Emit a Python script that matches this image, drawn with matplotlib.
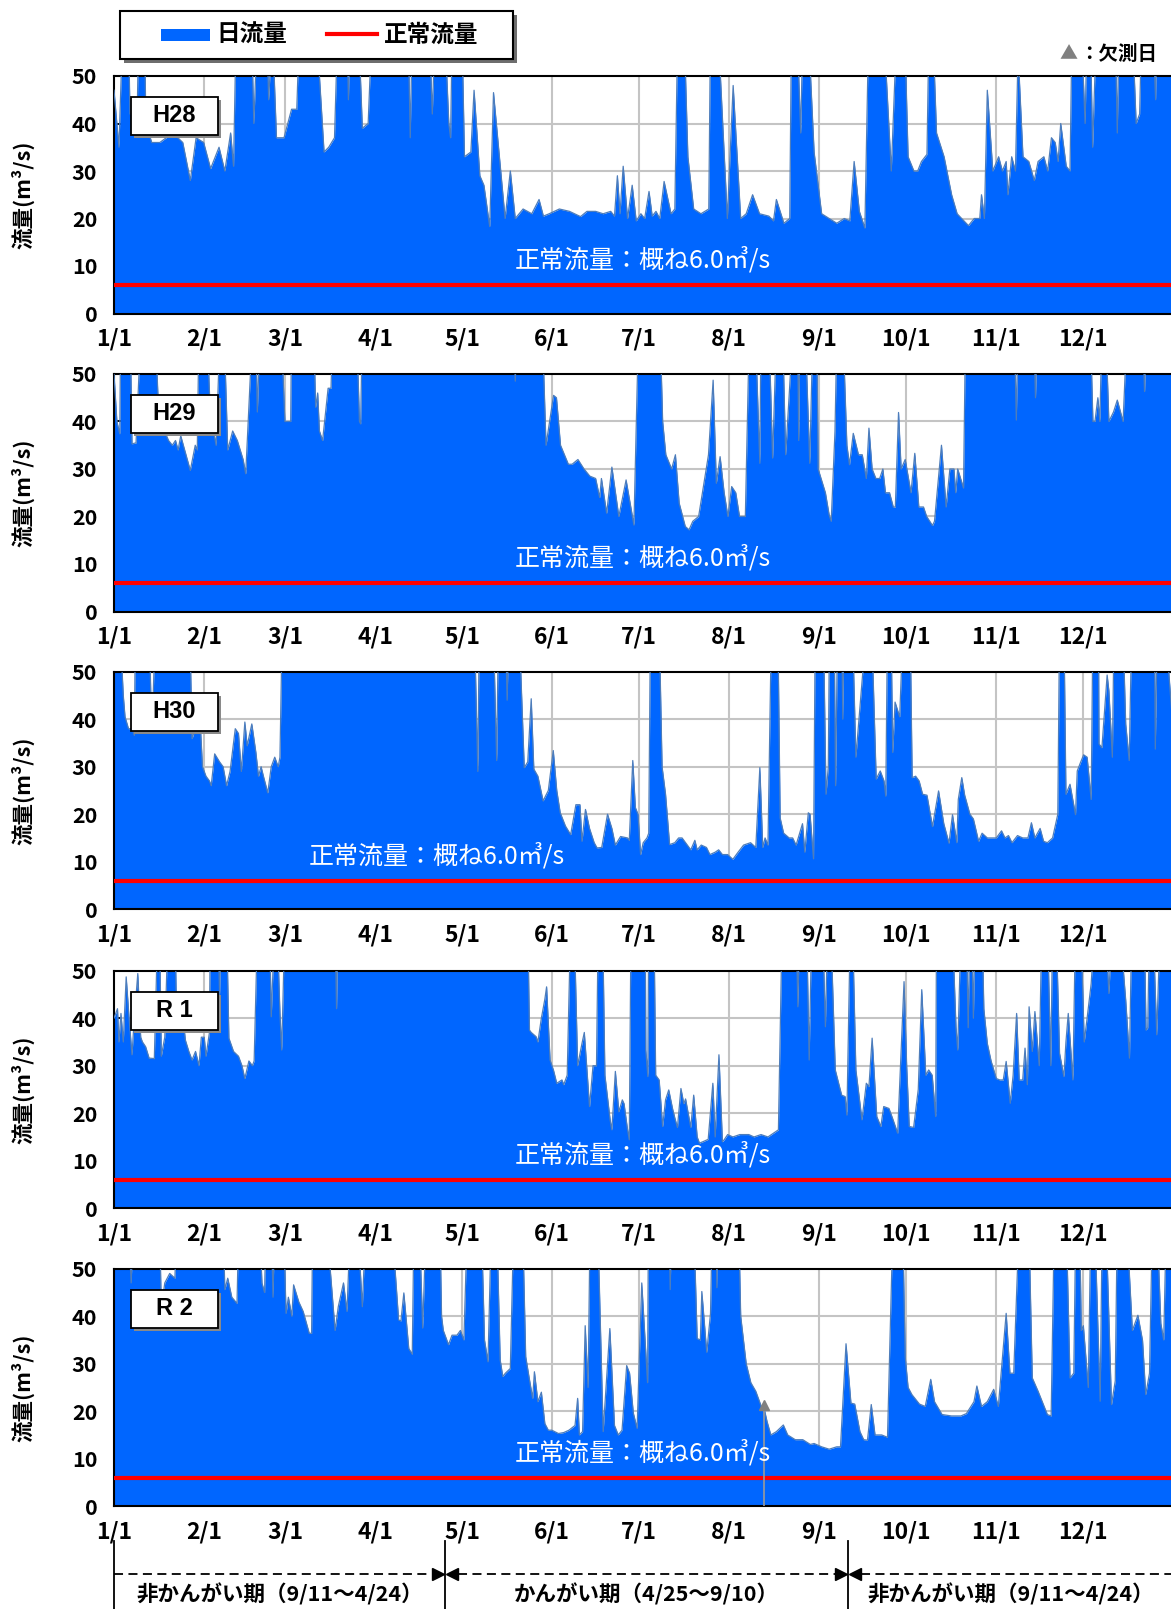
import matplotlib.pyplot as plt
import matplotlib.transforms as mtransforms
from matplotlib.patches import Rectangle

plt.rcParams['font.family'] = ['Noto Sans CJK JP', 'DejaVu Sans']

# 月初の通日と目盛ラベル
month_start = [0, 31, 59, 90, 120, 151, 181, 212, 243, 273, 304, 334]
month_label = ['1/1', '2/1', '3/1', '4/1', '5/1', '6/1',
               '7/1', '8/1', '9/1', '10/1', '11/1', '12/1']

year_label = ['H28', 'H29', 'H30', 'R 1', 'R 2']
normal_flow = 6.0   # 正常流量 m3/s

# 日流量 (通日, m3/s)  50超はグラフ外なので60で記録
h28 = [(0, 47), (1.7, 35), (3, 60), (5, 60), (5.5, 42), (8, 42), (8.5, 60), (10.5, 60), (11, 40),
       (13, 36), (15.8, 36), (18, 37), (19.7, 40), (22, 37), (23.7, 36), (26.3, 28), (28.3, 37),
       (30.9, 36), (33.3, 30.5), (36.2, 35), (38.2, 30), (40.2, 38), (41.2, 31), (42.1, 60),
       (47.4, 60), (48.2, 40), (49.4, 60), (52.7, 60), (53.3, 45), (54.6, 60), (56, 37), (58.6, 37),
       (61.2, 43), (63, 43), (63.9, 60), (69.8, 60), (72.4, 34), (74, 35), (76, 37), (77.1, 60),
       (80.3, 60), (80.8, 45), (81.3, 60), (84.3, 60), (85.6, 39), (87.6, 40), (88.9, 60),
       (101.4, 60), (102.1, 37), (102.8, 60), (108.7, 60), (109.7, 42), (110.7, 60), (114, 60),
       (115.4, 40), (116, 37), (116.6, 60), (119.9, 60), (120.8, 33), (123, 34), (124.1, 47),
       (126.1, 29), (127.5, 27), (129.5, 18.3), (130.8, 46.5), (134.8, 20), (136.6, 30),
       (138.3, 20), (141, 22), (144, 21), (146.5, 24), (148, 20.5), (150, 21), (153.5, 22),
       (157, 21.5), (160.8, 20.4), (163, 21.5), (166, 21.5), (168.6, 21), (171.2, 21.5),
       (172.5, 20.5), (173.5, 29), (174.4, 21), (175.5, 31), (177, 20), (178.6, 27), (180, 19.5),
       (181.6, 21), (182.9, 20), (184.4, 25.7), (185.5, 20.5), (186.8, 21.5), (188.1, 20),
       (189.6, 27.8), (192, 21), (193.3, 22), (194.3, 60), (196.5, 60), (197.8, 33), (199.8, 22),
       (202.3, 21), (205, 22), (205.6, 60), (208.2, 60), (211.4, 20), (213.4, 48), (216, 20),
       (217.9, 21), (220.1, 25), (222.5, 21), (225.7, 20.5), (227.3, 19.5), (228.3, 24),
       (230.9, 19), (232.9, 20), (233.5, 60), (235.4, 60), (236.7, 38), (237.4, 60), (239.3, 60),
       (241.3, 34), (243.9, 21), (246.5, 20), (249.1, 19), (251.7, 20), (253.6, 19.5), (255.1, 32),
       (256.9, 21.5), (258.8, 18), (260.1, 60), (265.3, 60), (267.9, 30), (269.8, 60), (272.5, 60),
       (273.7, 33), (275.7, 30), (277, 30), (278.3, 32), (280.2, 33.5), (280.9, 60), (282.2, 60),
       (283.5, 38), (286.1, 33), (288.7, 25), (290.6, 21), (294.5, 18.5), (296.5, 20), (298.4, 20),
       (299, 25), (300, 20), (301, 47), (302.9, 30), (304.9, 33), (306.2, 30), (307.5, 32),
       (308.1, 25), (309.4, 33), (310.7, 30), (311.6, 55), (313.3, 33), (315.3, 32), (317.2, 28),
       (318.5, 32), (320.5, 33), (321.8, 30), (323.1, 37), (324.4, 36), (325.4, 32), (326.3, 40),
       (328.2, 31), (329.5, 30), (330.2, 60), (333.4, 60), (334.7, 40), (335.4, 60), (336.5, 60),
       (337.3, 35), (338.6, 60), (345.1, 60), (345.8, 38), (346.4, 60), (351, 60), (352.3, 40),
       (353.5, 42), (354.2, 60), (358.1, 60), (359, 45), (359.4, 60), (365, 60)]

h29 = [(0, 50), (1, 40), (2, 37.4), (2.3, 60), (5.6, 60), (6.2, 35.3), (7.6, 35.5), (9.3, 60),
       (14.2, 60), (15.5, 40), (17.4, 38), (18.8, 36), (20.1, 35), (21.2, 36), (22.1, 34), (23, 37),
       (26.3, 29.7), (28, 35), (28.7, 34), (29.3, 60), (32, 60), (33.3, 40), (34.3, 38), (35.2, 35),
       (36.6, 60), (37.9, 60), (39.2, 34), (40.9, 38), (42.5, 36), (44.5, 32), (45.4, 29),
       (47.8, 60), (48.8, 60), (49.4, 42), (50.4, 60), (57.6, 60), (58.9, 40), (60.9, 40),
       (61.2, 60), (68.8, 60), (69.5, 43), (70.2, 46), (70.8, 38), (71.9, 36), (73.8, 47),
       (74.8, 47), (75.4, 60), (83.6, 60), (84.6, 40), (85, 39.5), (85.6, 60), (137.7, 60),
       (138.3, 48.5), (139, 60), (147.6, 60), (148.9, 35), (151.5, 45.5), (152.5, 45), (153.9, 35),
       (156.6, 31), (157.9, 31), (159.9, 32), (162, 30), (164, 28.5), (166, 28), (167.4, 24),
       (168, 28), (169.8, 20.7), (171.6, 30.4), (174, 20), (176.5, 27.7), (179.2, 18.2),
       (180.8, 60), (188.2, 60), (189.1, 40), (190.2, 33), (192.2, 30), (193.5, 33), (194.8, 22.8),
       (196.9, 17.9), (198.2, 17.2), (199.5, 19), (201.5, 20), (204.9, 33), (206.5, 48.7),
       (207.6, 27), (208.9, 32.6), (210.3, 25), (211.6, 20), (212.9, 26.3), (214.3, 25),
       (215.6, 20), (217.6, 20), (219, 60), (221, 60), (222.6, 31.2), (223, 60), (225.7, 60),
       (227, 32.3), (228.4, 60), (230.4, 60), (231.5, 33), (234.1, 60), (235.6, 60), (236, 36),
       (236.4, 60), (238.2, 60), (239.8, 31.2), (240.9, 60), (242.2, 60), (242.7, 30), (245.2, 25),
       (246.5, 20.3), (247.2, 19), (248.5, 38), (249.2, 60), (251.2, 60), (252.6, 35), (253.5, 30.9),
       (254.8, 37.5), (256.6, 33), (257.9, 33), (259.3, 28), (260.2, 38.6), (261.3, 30), (262.6, 28),
       (263.9, 28), (265, 30), (265.9, 25), (267.3, 25), (268.6, 22), (269.3, 22), (270.4, 41.9),
       (271.3, 30), (272.7, 32), (274.7, 25), (276, 33.3), (277.4, 22), (279, 22), (280.1, 20),
       (282.1, 18.1), (282.8, 19), (285.2, 35), (286.8, 22), (288.1, 30), (289.5, 30), (290.1, 25),
       (290.8, 30), (292.8, 26), (293.5, 60), (310.3, 60), (311, 40.3), (311.6, 60), (317, 60),
       (317.6, 45), (318.3, 60), (336.5, 60), (337.4, 40), (338.1, 40), (339.1, 45), (339.8, 40),
       (340.5, 60), (341.8, 60), (342.9, 40), (344.5, 42), (345.8, 44.5), (347.8, 40), (349.2, 60),
       (354.5, 60), (355.2, 46.3), (355.9, 60), (365, 60)]

h30 = [(0, 60), (2, 60), (3.2, 45), (3.8, 40.5), (5, 38), (6.2, 38), (7, 36.6), (7.4, 60),
       (12.1, 60), (12.7, 45), (13.5, 45), (14.3, 60), (26.1, 60), (26.9, 35.9), (28, 38),
       (29.3, 44), (30.5, 30), (31.7, 28), (32.9, 27), (33.5, 26), (34.7, 32.7), (36.4, 31),
       (37.6, 30), (38.8, 26), (40, 29), (41.8, 38), (42.9, 37), (43.9, 29), (45.1, 39.4),
       (45.9, 34.4), (47.5, 39), (48.9, 33), (49.8, 28), (50.7, 30), (51.5, 28), (53, 24.5),
       (54.2, 30), (55.4, 32), (56.6, 30), (57.2, 32), (58, 60), (124.2, 60), (125.4, 29),
       (125.9, 60), (130.7, 60), (131.9, 31.3), (132.5, 60), (134.9, 60), (135.5, 44), (136.1, 60),
       (139.6, 60), (141.4, 29.8), (142.6, 31), (143.8, 44.3), (144.7, 29.5), (146.1, 28),
       (147.9, 22.8), (149.7, 25), (151.4, 33.4), (152.6, 25), (153.8, 20.3), (155.6, 17.5),
       (157.4, 15.7), (159.2, 22), (160.6, 22), (161.3, 14.3), (162.5, 21), (163.9, 17), (165.5, 14),
       (166.5, 12.9), (168.1, 13), (170.1, 20), (171.6, 17), (172.8, 13.5), (174.6, 15.3), (177, 15),
       (177.6, 14.5), (178.8, 31.3), (179.7, 21.4), (180.6, 20), (181.5, 11.5), (182.4, 14),
       (183.7, 15), (184.3, 16), (184.9, 60), (187.9, 60), (188.9, 30), (190.1, 24.2), (191.5, 13.6),
       (193.3, 14), (194.6, 15), (195.8, 15), (197, 14), (198.8, 12.5), (200.2, 14.5), (201, 12.5),
       (202.4, 13.5), (204.2, 13), (205.4, 11.5), (207.2, 12), (208.4, 12.5), (209.7, 11.5),
       (211.5, 11.5), (213.3, 10.5), (215.1, 12), (217, 13.5), (219.4, 14), (221.2, 13),
       (222.6, 29.8), (223.6, 13), (224.4, 15), (225.4, 13.5), (226.6, 60), (228.8, 60),
       (229.6, 19.2), (230.8, 16), (232.7, 15), (233.9, 15), (235.1, 13.5), (237.3, 18), (238.1, 12),
       (239.3, 20.3), (239.9, 20), (241.1, 10.6), (241.7, 60), (244.5, 60), (245.4, 24.2),
       (246.2, 30), (246.6, 60), (248.2, 60), (248.7, 26), (249.4, 60), (250.8, 60), (251.2, 40),
       (251.6, 60), (254.5, 60), (255.7, 32), (258.1, 50), (258.5, 60), (261.1, 60), (262.7, 27.4),
       (264.1, 29.1), (265.4, 27), (266, 23.8), (266.6, 60), (267.8, 60), (268.4, 33), (269.2, 43.6),
       (270.8, 40.5), (272, 60), (274.4, 60), (275.1, 27.7), (276.3, 28), (277.5, 27), (278.7, 24.2),
       (280.2, 24), (282.1, 17.4), (284.2, 24.9), (286, 18), (287.8, 13.9), (289, 19.9), (290.5, 14),
       (291, 23.1), (292.2, 27.7), (293.2, 24), (295, 20), (296.2, 19), (298, 14.3), (299.2, 16),
       (301, 15), (304.1, 15), (305.9, 16.5), (307.1, 15), (308.3, 15.5), (309.5, 14), (311.4, 15.5),
       (313.2, 15), (315, 15), (316.2, 18.2), (317.4, 15), (319.2, 17), (320.4, 14.3), (321.7, 14),
       (323.5, 15), (325.3, 20), (325.9, 60), (327.4, 60), (328.1, 24.2), (329.5, 26.3),
       (331.4, 19.9), (332, 29.1), (333.2, 31), (334.2, 32.5), (335.4, 32), (336.8, 23.1),
       (337.4, 60), (339.3, 60), (339.5, 34.8), (340.5, 34), (342.3, 49.3), (342.9, 46), (344.1, 32),
       (344.7, 60), (347.7, 60), (348.7, 39), (349.9, 31.3), (350.8, 60), (358.6, 60), (358.9, 33.7),
       (359.6, 60), (362.3, 60), (365, 38)]

r1 = [(0, 40), (1.2, 42), (1.7, 35), (2.4, 41), (3.2, 35), (4.2, 48.7), (5.2, 40), (6.2, 32.3),
      (7, 40), (8.2, 49.4), (9.2, 36), (9.8, 35), (10.9, 34), (12.1, 31.6), (13.9, 31.5), (15.1, 60),
      (15.7, 60), (16.3, 32), (17.5, 36), (18.7, 60), (21, 60), (21.6, 39), (23.8, 40), (24.6, 35.4),
      (25.8, 33), (26.9, 31.2), (28.1, 33), (29.3, 30), (30.1, 36), (31.1, 36), (31.7, 32),
      (32.9, 37), (33.2, 60), (35.8, 60), (36.4, 45), (37, 60), (38.8, 60), (39.6, 35.8), (41.2, 33),
      (42.9, 32), (44.1, 30), (45.1, 27.3), (46.5, 31), (47.7, 30), (48.3, 31), (49.5, 60),
      (53.6, 60), (54.2, 40.3), (55.4, 60), (56.2, 60), (57.2, 41), (57.8, 33.3), (58.9, 60),
      (76.2, 60), (76.7, 42), (77.2, 60), (142.6, 60), (143.2, 37.5), (143.8, 37), (145.5, 36.1),
      (146.1, 35), (147.3, 40), (148.5, 44), (149.1, 46.6), (150.3, 31.2), (151.5, 29),
      (152.6, 26.3), (154.4, 27), (155, 26), (156.2, 28), (157.4, 60), (158.6, 60), (159.8, 30),
      (161.3, 34.7), (162.1, 37), (163.9, 21.4), (165.1, 30), (166.3, 30), (166.9, 60), (168.4, 60),
      (169.2, 28), (171, 18.6), (171.6, 16.5), (172.8, 28.8), (174, 20.3), (175.2, 22.8), (175.8, 22),
      (176.9, 17), (177.6, 14.4), (178.2, 60), (183.1, 60), (183.3, 33.3), (184, 27.7), (184.3, 60),
      (186.1, 60), (186.7, 28), (187.9, 27), (189.1, 17.2), (190.1, 22.8), (191.2, 24.9),
      (192.5, 21), (193.3, 19), (194.2, 17), (195.4, 25.2), (196.4, 22), (197, 23), (198.8, 17),
      (199.8, 23.8), (201, 15), (201.8, 13.7), (203, 14), (204.8, 14.5), (206.4, 26.3), (207.2, 15),
      (208.5, 32.3), (209.7, 14), (210.3, 14.4), (211.5, 15.5), (213.3, 15), (215.7, 15.5),
      (218.8, 15.5), (220.6, 15), (223, 15.5), (225.4, 15), (227.8, 16), (229, 16.5), (230.3, 60),
      (235.1, 60), (235.7, 42.4), (236.3, 60), (238.7, 60), (239.6, 31.2), (240.5, 60), (244.2, 60),
      (245.2, 38.2), (246, 60), (247, 60), (248.6, 29.1), (250.8, 23.8), (252, 23.5), (252.6, 19.6),
      (253.8, 60), (254.5, 60), (255.7, 29.1), (257.8, 18.6), (259.3, 26.3), (260.2, 25.6),
      (261.3, 35.8), (262.9, 19.3), (264.3, 17.2), (265.3, 21.4), (267.1, 21), (268.3, 19),
      (270.1, 15.8), (272.3, 47.7), (273.2, 30), (274.1, 17.2), (275.6, 17), (277.2, 25),
      (278.4, 46), (279.8, 28), (280.8, 29.1), (282, 28), (283.2, 19.3), (283.5, 60), (288.9, 60),
      (290.2, 38.2), (290.8, 33.3), (292, 60), (293.8, 60), (294.4, 38), (295, 60), (295.6, 60),
      (296.2, 40), (296.8, 60), (299.2, 60), (299.8, 42), (301, 34.7), (302.3, 31), (304.1, 27.3),
      (305.3, 27), (306.5, 27), (307.5, 30.9), (308.9, 22.1), (309.9, 28), (311.1, 41), (312, 27),
      (313.2, 27), (314, 33.7), (314.8, 26), (315.4, 42.4), (316.5, 33), (317.4, 41.4), (318.9, 30),
      (319.8, 60), (321.7, 60), (322.9, 30), (323.5, 60), (324.7, 60), (325.9, 32.6), (327.4, 27.7),
      (328.1, 35), (328.9, 41), (330.5, 27), (331.4, 60), (333.2, 60), (334.4, 35), (335.4, 40),
      (336.8, 47.3), (338.1, 60), (341.7, 60), (342.9, 45.2), (344.1, 60), (346.6, 60),
      (348.7, 43.8), (350, 31.6), (350.8, 60), (355.1, 60), (355.7, 37.5), (356.3, 38), (356.9, 60),
      (358.1, 60), (359.4, 36.5), (360.6, 60), (365, 60)]

r2 = [(0, 60), (5, 60), (5.9, 47), (6.8, 60), (15.7, 60), (16.3, 41.7), (17.5, 47), (19.2, 49),
      (21, 48), (21.6, 60), (37.6, 60), (38.2, 45.6), (39.2, 48), (40.6, 44), (42.4, 42.7), (43, 60),
      (50.1, 60), (51, 47), (51.9, 45), (52.4, 60), (54.2, 60), (54.8, 44), (55.4, 60), (58.4, 60),
      (59.3, 40.6), (60.1, 44), (61.3, 40), (61.9, 46.6), (63.7, 43), (65.2, 41), (67.3, 36.4),
      (68.1, 36.4), (68.5, 60), (73.2, 60), (76.2, 37), (77.3, 42), (79.1, 47), (80.3, 41),
      (81.5, 60), (83.9, 60), (85.6, 42), (86.8, 60), (95.7, 60), (98.1, 39.2), (98.9, 39),
      (99.9, 44.9), (101.6, 33.2), (102.8, 32), (103.4, 60), (105.2, 60), (106.4, 37.5),
      (107.6, 60), (112.3, 60), (112.9, 40), (113.5, 37), (115.3, 34), (116.5, 36), (118.2, 36),
      (119.4, 37), (120.6, 35), (121.8, 60), (126.6, 60), (127.7, 35), (128.9, 30.4), (130.1, 60),
      (131.9, 60), (133.1, 30.8), (134, 27.3), (134.9, 28), (136.6, 29), (137.8, 60), (140.8, 60),
      (141.9, 31.5), (143.1, 27), (144.3, 22.7), (144.9, 28.3), (146.1, 22), (147.3, 24),
      (148.5, 17.4), (149.7, 16), (150.9, 16), (153.2, 15.3), (155, 15.5), (156.8, 16), (158.9, 17),
      (159.8, 22.7), (160.4, 15), (161.5, 15.7), (162.4, 38), (163.4, 25), (164.1, 60), (166.7, 60),
      (168.6, 15.7), (170.9, 37.4), (172.5, 17), (173.8, 15), (175.1, 16), (176.7, 29.6),
      (177.7, 28), (179, 19.6), (180.3, 16.4), (181.9, 47), (183.9, 26), (184.2, 60), (191.3, 60),
      (191.7, 45.6), (192.2, 60), (199.8, 60), (201, 35.3), (202.1, 35), (202.6, 45.2),
      (204.3, 32.4), (205.6, 40.6), (206.2, 60), (207.5, 60), (207.8, 46), (208.2, 60), (215.3, 60),
      (216, 40), (217.9, 30), (219.5, 26), (221.2, 24.2), (223.1, 21), (224.1, 20.5), (225.1, 17.8),
      (226.4, 15), (228.3, 15.7), (230.7, 17.1), (232.2, 15), (234.8, 14), (237.4, 14), (240, 13),
      (241.3, 13.2), (243.9, 12.5), (246.5, 12), (249.1, 12.5), (250.4, 12.5), (252.3, 34.2),
      (254, 21.7), (255.3, 21.5), (257.1, 15.7), (258.4, 14), (259.7, 13.9), (261, 21.4),
      (262.3, 15), (264.6, 15), (266.6, 14.5), (268.5, 60), (271.8, 60), (272.7, 31.4), (273.7, 25),
      (275, 23.5), (277.6, 21.5), (279.6, 21), (281.5, 26.7), (282.8, 22), (285.4, 19.3),
      (288.6, 19), (291.9, 19), (293.8, 19.5), (296.4, 22), (297.4, 25.3), (299, 21), (301, 22),
      (303.2, 24.6), (304.8, 21), (307.5, 40.6), (308.8, 28), (310.1, 28), (312, 60), (315.3, 60),
      (316.5, 27), (318.5, 24.2), (321.7, 19.3), (323, 19), (324.1, 60), (328.2, 60), (329.5, 27),
      (330.8, 28), (331.5, 60), (332.8, 60), (333.4, 37), (334.1, 38), (335.8, 25), (336.7, 60),
      (338, 60), (339.9, 22.1), (340.6, 60), (341.9, 60), (343.8, 21.4), (345.1, 26.4), (345.8, 60),
      (349, 60), (351, 37), (352.9, 40.2), (354.5, 34.9), (355.6, 23.5), (356.9, 28), (357.9, 60),
      (359.5, 60), (360.8, 38.5), (361.8, 35), (362.7, 60), (365, 60)]

series = [h28, h29, h30, r1, r2]

# R2 欠測日 (8/13)
r2_missing_day = 224
r2_missing_q = 20.5

# かんがい期の区切り (4/25, 9/11 の通日)
irrig_start = 114
irrig_end = 253
period_text = ['非かんがい期（9/11～4/24）', 'かんがい期（4/25～9/10）', '非かんがい期（9/11～4/24）']

# ---- レイアウト (px) ----
W, H = 1171, 1609
fig = plt.figure(figsize=(W / 100, H / 100), dpi=100)
tops = [76, 374, 671.7, 970.7, 1268.7]
ph = 237.5
axl, axw = 114, 1059
BLUE = '#0066ff'
EDGE = '#4d7dbb'
GRID = '#c4c4c4'
note_x = [138, 138, 67, 138, 138]

axes = []
for i, data in enumerate(series):
    ax = fig.add_axes([axl / W, 1 - (tops[i] + ph) / H, axw / W, ph / H])
    d, q = zip(*data)
    for m in month_start[1:]:
        ax.axvline(m, color=GRID, lw=1.5, zorder=1)
    for v in range(10, 50, 10):
        ax.axhline(v, color=GRID, lw=1.5, zorder=1)
    ax.fill_between(d, 0, q, color=BLUE, lw=0, zorder=2)
    ax.plot(d, q, color=EDGE, lw=0.9, zorder=3)
    ax.axhline(normal_flow, color='#ff0000', lw=3, zorder=4)
    ax.text(note_x[i], 11.2, '正常流量：概ね6.0㎥/s', color='white', fontsize=18,
            ha='left', va='center', zorder=5)

    ax.set_xlim(0, 365)
    ax.set_ylim(0, 50)
    ax.set_xticks(month_start)
    ax.set_xticklabels(month_label, fontsize=16.5, fontweight='bold')
    ax.set_yticks(range(0, 51, 10))
    ax.set_yticklabels([str(v) for v in range(0, 51, 10)], fontsize=15.5, fontweight='bold')
    ax.tick_params(axis='x', direction='in', length=6, width=1.3, pad=10)
    ax.tick_params(axis='y', direction='in', length=5, width=1.3, pad=12)
    ax.spines['right'].set_visible(False)
    for s in ['left', 'bottom', 'top']:
        ax.spines[s].set_linewidth(1.5)
    ax.set_ylabel('流量(m³/s)', fontsize=15.5, fontweight='bold')
    ax.yaxis.set_label_coords(-0.075, 0.5)

    # 年度ラベル
    sx, sy = 3 / axw, 3 / ph
    ax.add_patch(Rectangle((0.016 + sx, 0.752 - sy), 0.082, 0.16, transform=ax.transAxes,
                           fc='#8a8a8a', ec='none', zorder=6))
    ax.add_patch(Rectangle((0.016, 0.752), 0.082, 0.16, transform=ax.transAxes,
                           fc='white', ec='black', lw=1.3, zorder=7))
    ax.text(0.057, 0.832, year_label[i], transform=ax.transAxes, ha='center', va='center',
            fontsize=17, fontweight='bold', family=['Liberation Sans', 'DejaVu Sans'], zorder=8)
    axes.append(ax)

# 欠測日
ax5 = axes[4]
ax5.plot([r2_missing_day, r2_missing_day], [0, r2_missing_q], color='#9a9a9a', lw=1.2, zorder=4.5)
ax5.plot(r2_missing_day, r2_missing_q + 0.8, marker='^', color='#808080', ms=7, zorder=6)

# かんがい期の区分 (下部)
tr = mtransforms.blended_transform_factory(ax5.transData, ax5.transAxes)
for b in [0, irrig_start, irrig_end]:
    ax5.plot([b, b], [-0.148, -0.46], color='black', lw=1.3, transform=tr, clip_on=False)
ya = -0.286
gap = 4.6
segs = [(0, irrig_start - gap), (irrig_start + gap, irrig_end - gap), (irrig_end + gap, 365)]
for a, b in segs:
    ax5.plot([a, b], [ya, ya], color='black', lw=1.3, ls=(0, (5, 3)), transform=tr, clip_on=False)
for b in [irrig_start, irrig_end]:
    ax5.plot(b - 2.4, ya, marker='>', color='black', ms=9, transform=tr, clip_on=False)
    ax5.plot(b + 2.4, ya, marker='<', color='black', ms=9, transform=tr, clip_on=False)
bounds = [0, irrig_start, irrig_end, 365]
for k, t in enumerate(period_text):
    ax5.text((bounds[k] + bounds[k + 1]) / 2, -0.372, t, transform=tr, ha='center',
             va='center', fontsize=15.5, fontweight='bold')

# 凡例 (上部)
lay = fig.add_axes([0, 0, 1, 1])
lay.set_xlim(0, W)
lay.set_ylim(H, 0)
lay.axis('off')
lay.add_patch(Rectangle((124, 15), 393, 48, fc='#6e6e6e', ec='none'))
lay.add_patch(Rectangle((120, 11), 393, 48, fc='white', ec='black', lw=1.5))
lay.add_patch(Rectangle((161, 29), 49, 12, fc=BLUE, ec='none'))
lay.text(216, 35, '日流量', fontsize=17, fontweight='bold', va='center', ha='left')
lay.plot([327, 377], [34, 34], color='#ff0000', lw=3)
lay.text(384, 35, '正常流量', fontsize=17, fontweight='bold', va='center', ha='left')
lay.text(1068, 54, '▲', color='#808080', fontsize=13, va='center', ha='center')
lay.text(1079, 54, '：欠測日', fontsize=14, fontweight='bold', va='center', ha='left')

fig.savefig('out.png', dpi=100)
